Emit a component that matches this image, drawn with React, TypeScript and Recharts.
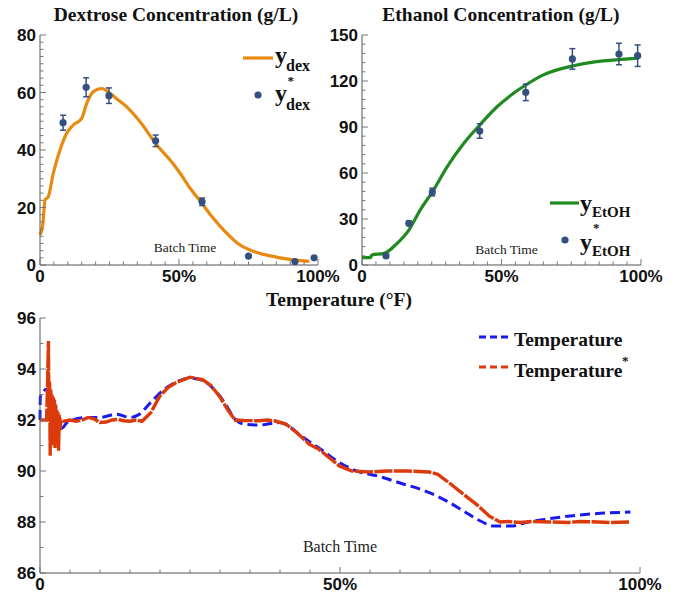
import React from "react";
import { ComposedChart, Line, Scatter, ErrorBar, XAxis, YAxis } from "recharts";

// dextrose: model curve and measured samples (batch time in %)
const dexFitTime = [0, 1, 1.8, 3, 4.8, 7.2, 9.6, 12, 15, 16.8, 19.2, 22.2, 25.2, 28, 31.2, 36, 42, 46.8, 50.4, 54, 57.8, 61.9, 66.6, 71.2, 77.2, 84.3, 91.5, 96.9];
const dexFit = [10.5, 14, 22.6, 23.8, 32, 40, 45.8, 48.7, 51, 56.2, 60.3, 61.4, 59.7, 57.5, 55, 49.8, 41.7, 36.5, 31.9, 26.7, 22, 16.8, 11.6, 7.5, 4.6, 2.9, 1.7, 1.3];
const dexObsTime = [8.3, 16.6, 24.8, 41.6, 58.3, 75, 91.7, 98.6];
const dexObs = [49.5, 61.8, 58.9, 43.2, 22, 3.1, 1.2, 2.5];
const dexErr = [2.6, 3.3, 2.7, 2, 1.3, 0, 0, 0];

// ethanol
const etohFitTime = [0, 3, 3.5, 8, 12.5, 16.8, 20.9, 25.2, 30.5, 36.5, 42.2, 48.4, 54.3, 58.7, 65, 75.4, 84, 92, 99.2];
const etohFit = [4.8, 4.8, 6.5, 7.6, 14, 22.8, 36, 47.6, 64, 79.4, 91.3, 103.2, 112, 117.4, 124, 129.8, 132.6, 133.9, 134.9];
const etohObsTime = [8.6, 16.8, 25.2, 42.2, 58.7, 75.4, 92.1, 98.8];
const etohObs = [5.9, 27.2, 47.6, 87.4, 112.6, 134.4, 137.6, 136.5];
const etohErr = [0, 1.5, 2.5, 4.7, 5.4, 6.7, 7, 7];

// temperature: model vs measured
const tempModelTime = [0, 0.05, 0.5, 1, 1.6, 2.5, 3.6, 4.5, 5.5, 8, 10, 12.8, 15, 16.4, 18.5, 20.7, 22.8, 25, 27.1, 29.2, 30.7, 32.5, 33.9, 36.4, 40, 41.4, 43.5, 47.1, 49.9, 52.8, 56.3, 59.9, 64.9, 67.8, 70.6, 73.5, 75.6, 78.5, 81.3, 84.9, 89.2, 93.4, 98.4];
const tempModel = [92.0, 92.9, 93.1, 93.2, 93.07, 92.6, 91.67, 91.9, 92.0, 92.1, 92.1, 92.23, 92.1, 92.2, 92.7, 93.2, 93.5, 93.64, 93.55, 93.15, 92.7, 92.04, 91.84, 91.8, 91.9, 91.77, 91.38, 90.8, 90.33, 90.0, 89.8, 89.54, 89.15, 88.82, 88.43, 88.03, 87.84, 87.84, 88.0, 88.13, 88.26, 88.34, 88.39];
const tempMeasTime = [0, 1.1, 1.25, 1.4, 1.5, 1.6, 1.7, 1.8, 1.9, 2.0, 2.1, 2.2, 2.3, 2.4, 2.5, 2.6, 2.7, 2.8, 2.9, 3.0, 3.1, 3.2, 3.3, 3.5, 4, 5, 6, 7, 8, 9, 10, 11, 12, 13, 14, 15, 16, 17, 18.5, 20, 21.4, 22.8, 25, 27.1, 28.5, 30, 31.4, 32.5, 34, 36.4, 38, 39.2, 41, 42.8, 44.9, 46.5, 47.8, 49.9, 52, 54.9, 57.8, 61.3, 64.9, 66.3, 68.5, 70.6, 72.7, 74.9, 76.7, 78, 80, 82, 85, 88, 90, 93, 95, 98.4];
const tempMeas = [92, 92, 93.3, 95.1, 92.2, 93.5, 90.6, 93.2, 91.2, 93.0, 91.0, 92.9, 91.5, 92.8, 90.9, 92.6, 91.3, 92.4, 91.1, 92.3, 90.8, 92.2, 91.6, 92.0, 91.95, 92.0, 91.95, 92.0, 92.1, 92.05, 91.9, 91.92, 92.0, 92.02, 91.97, 91.95, 92.0, 91.95, 92.3, 92.95, 93.28, 93.48, 93.68, 93.58, 93.35, 92.9, 92.36, 92.0, 91.98, 91.97, 92.0, 91.96, 91.84, 91.5, 91.05, 90.85, 90.6, 90.2, 90.0, 89.96, 90.0, 90.0, 89.96, 89.87, 89.48, 89.08, 88.7, 88.23, 88.0, 88.02, 87.98, 88.02, 88.0, 87.98, 88.02, 88.0, 87.98, 88.0];

// ticks
const pctTicks = [0, 5, 10, 15, 20, 25, 30, 35, 40, 45, 50, 55, 60, 65, 70, 75, 80, 85, 90, 95, 100];
const pctMajor = [0, 50, 100];
const dexTicks = [0, 2.5, 5, 7.5, 10, 12.5, 15, 17.5, 20, 22.5, 25, 27.5, 30, 32.5, 35, 37.5, 40, 42.5, 45, 47.5, 50, 52.5, 55, 57.5, 60, 62.5, 65, 67.5, 70, 72.5, 75, 77.5, 80];
const dexRightTicks = [0, 10, 20, 30, 40, 50, 60, 70, 80];
const dexMajor = [0, 20, 40, 60, 80];
const etohTicks = [0, 6, 12, 18, 24, 30, 36, 42, 48, 54, 60, 66, 72, 78, 84, 90, 96, 102, 108, 114, 120, 126, 132, 138, 144, 150];
const etohMajor = [0, 30, 60, 90, 120, 150];
const tempTicks = [86, 87, 88, 89, 90, 91, 92, 93, 94, 95, 96];
const tempMajor = [86, 88, 90, 92, 94, 96];

const ORANGE = "#e88a10";
const GREEN = "#1f8a1f";
const NAVY = "#33507f";
const BLUE = "#1a1af0";
const RED = "#dc3a0a";
const FRAME = "#555";
const TICK = "#777";
const SERIF = "'Liberation Serif', 'Times New Roman', serif";
const SANS = "'Liberation Sans', Arial, sans-serif";

const zip = (t: number[], v: number[], e?: number[]) =>
  t.map((x, i) => ({ t: x, v: v[i], err: e ? e[i] : 0 }));

const pctLabel = (v: number) => (v === 0 ? "0" : `${v}%`);
const numLabel = (v: number) => `${v}`;

type Side = "left" | "right" | "top" | "bottom";

// frame ticks point inward, labels sit outside
const makeTick = (side: Side, majors: number[], fmt?: (v: number) => string) => (p: any) => {
  const { x, y, payload } = p;
  const v = payload.value;
  const major = majors.includes(v);
  const len = major ? 6 : 3.5;
  let x2 = x;
  let y2 = y;
  if (side === "left") x2 = x + len;
  if (side === "right") x2 = x - len;
  if (side === "top") y2 = y + len;
  if (side === "bottom") y2 = y - len;
  return (
    <g>
      <line x1={x} y1={y} x2={x2} y2={y2} stroke={TICK} strokeWidth={1} />
      {fmt && major && side === "left" && (
        <text x={x - 4} y={y} dy="0.36em" textAnchor="end" fontFamily={SANS} fontWeight="bold" fontSize={17} fill="#111">
          {fmt(v)}
        </text>
      )}
      {fmt && major && side === "bottom" && (
        <text x={x} y={y + 17} textAnchor="middle" fontFamily={SANS} fontWeight="bold" fontSize={17} fill="#111">
          {fmt(v)}
        </text>
      )}
    </g>
  );
};

const dot = (color: string) => (p: any) => <circle cx={p.cx} cy={p.cy} r={3.6} fill={color} />;

const batchLabel = (offset: number, dx: number, size: number) => ({
  value: "Batch Time",
  position: "top" as const,
  offset,
  dx,
  fontFamily: SERIF,
  fontSize: size,
  fill: "#222",
});

export default function App() {
  const dexLine = zip(dexFitTime, dexFit);
  const dexPts = zip(dexObsTime, dexObs, dexErr);
  const etohLine = zip(etohFitTime, etohFit);
  const etohPts = zip(etohObsTime, etohObs, etohErr);
  const tModel = zip(tempModelTime, tempModel);
  const tMeas = zip(tempMeasTime, tempMeas);

  return (
    <div style={{ position: "absolute", left: 0, top: 0, width: 674, height: 594, background: "#fff" }}>
      {/* dextrose */}
      <div style={{ position: "absolute", left: 0, top: 0 }}>
        <ComposedChart width={362} height={290} margin={{ top: 35, right: 44, bottom: 0, left: 0 }}>
          <XAxis xAxisId="b" dataKey="t" type="number" domain={[0, 100]} ticks={pctTicks} interval={0}
            height={25} tickSize={0} tickMargin={0} axisLine={{ stroke: FRAME }} tickLine={false}
            tick={makeTick("bottom", pctMajor, pctLabel)} label={batchLabel(13, 6, 13.5)} />
          <XAxis xAxisId="t" orientation="top" type="number" domain={[0, 100]} ticks={pctTicks} interval={0}
            height={0} tickSize={0} tickMargin={0} axisLine={{ stroke: FRAME }} tickLine={false}
            tick={makeTick("top", pctMajor)} />
          <YAxis yAxisId="l" type="number" domain={[0, 80]} ticks={dexTicks} interval={0} width={40}
            tickSize={0} tickMargin={0} axisLine={{ stroke: FRAME }} tickLine={false}
            tick={makeTick("left", dexMajor, numLabel)} />
          <YAxis yAxisId="r" orientation="right" type="number" domain={[0, 80]} ticks={dexRightTicks} interval={0}
            width={0} tickSize={0} tickMargin={0} axisLine={{ stroke: FRAME }} tickLine={false}
            tick={makeTick("right", dexMajor)} />
          <Line xAxisId="b" yAxisId="l" data={dexLine} dataKey="v" type="monotone" stroke={ORANGE}
            strokeWidth={3.2} dot={false} isAnimationActive={false} />
          <Scatter xAxisId="b" yAxisId="l" data={dexPts} dataKey="v" shape={dot(NAVY)} isAnimationActive={false}>
            <ErrorBar dataKey="err" direction="y" width={3} stroke={NAVY} strokeWidth={1.5} />
          </Scatter>
        </ComposedChart>
      </div>

      {/* ethanol */}
      <div style={{ position: "absolute", left: 300, top: 0 }}>
        <ComposedChart width={374} height={290} margin={{ top: 35, right: 33, bottom: 0, left: 0 }}>
          <XAxis xAxisId="b" dataKey="t" type="number" domain={[0, 100]} ticks={pctTicks} interval={0}
            height={25} tickSize={0} tickMargin={0} axisLine={{ stroke: FRAME }} tickLine={false}
            tick={makeTick("bottom", pctMajor, pctLabel)} label={batchLabel(11, 5, 13.5)} />
          <XAxis xAxisId="t" orientation="top" type="number" domain={[0, 100]} ticks={pctTicks} interval={0}
            height={0} tickSize={0} tickMargin={0} axisLine={{ stroke: FRAME }} tickLine={false}
            tick={makeTick("top", pctMajor)} />
          <YAxis yAxisId="l" type="number" domain={[0, 150]} ticks={etohTicks} interval={0} width={62}
            tickSize={0} tickMargin={0} axisLine={{ stroke: FRAME }} tickLine={false}
            tick={makeTick("left", etohMajor, numLabel)} />
          <YAxis yAxisId="r" orientation="right" type="number" domain={[0, 150]} ticks={etohTicks} interval={0}
            width={0} tickSize={0} tickMargin={0} axisLine={{ stroke: FRAME }} tickLine={false}
            tick={makeTick("right", etohMajor)} />
          <Line xAxisId="b" yAxisId="l" data={etohLine} dataKey="v" type="monotone" stroke={GREEN}
            strokeWidth={3.2} dot={false} isAnimationActive={false} />
          <Scatter xAxisId="b" yAxisId="l" data={etohPts} dataKey="v" shape={dot(NAVY)} isAnimationActive={false}>
            <ErrorBar dataKey="err" direction="y" width={3} stroke={NAVY} strokeWidth={1.5} />
          </Scatter>
        </ComposedChart>
      </div>

      {/* temperature */}
      <div style={{ position: "absolute", left: 0, top: 290 }}>
        <ComposedChart width={674} height={304} margin={{ top: 28, right: 34, bottom: 0, left: 0 }}>
          <XAxis xAxisId="b" dataKey="t" type="number" domain={[0, 100]} ticks={pctTicks} interval={0}
            height={21} tickSize={0} tickMargin={0} axisLine={{ stroke: FRAME }} tickLine={false}
            tick={makeTick("bottom", pctMajor, pctLabel)} label={batchLabel(21, 0, 16)} />
          <XAxis xAxisId="t" orientation="top" type="number" domain={[0, 100]} ticks={pctTicks} interval={0}
            height={0} tickSize={0} tickMargin={0} axisLine={{ stroke: FRAME }} tickLine={false}
            tick={makeTick("top", pctMajor)} />
          <YAxis yAxisId="l" type="number" domain={[86, 96]} ticks={tempTicks} interval={0} width={40}
            tickSize={0} tickMargin={0} axisLine={{ stroke: FRAME }} tickLine={false}
            tick={makeTick("left", tempMajor, numLabel)} />
          <YAxis yAxisId="r" orientation="right" type="number" domain={[86, 96]} ticks={tempTicks} interval={0}
            width={0} tickSize={0} tickMargin={0} axisLine={{ stroke: FRAME }} tickLine={false}
            tick={makeTick("right", tempMajor)} />
          <Line xAxisId="b" yAxisId="l" data={tModel} dataKey="v" type="monotone" stroke={BLUE}
            strokeWidth={3} strokeDasharray="10 5" dot={false} isAnimationActive={false} />
          <Line xAxisId="b" yAxisId="l" data={tMeas} dataKey="v" type="linear" stroke={RED}
            strokeWidth={3.4} strokeDasharray="18 1.5" dot={false} isAnimationActive={false} />
        </ComposedChart>
      </div>

      {/* titles and legends */}
      <svg width={674} height={594} style={{ position: "absolute", left: 0, top: 0, pointerEvents: "none" }}>
        <g fontFamily={SERIF} fontWeight="bold" fill="#111">
          <text x={176} y={21} fontSize={19.5} textAnchor="middle">Dextrose Concentration (g/L)</text>
          <text x={501} y={21} fontSize={19.5} textAnchor="middle">Ethanol Concentration (g/L)</text>
          <text x={339} y={306} fontSize={19.5} textAnchor="middle">Temperature (°F)</text>

          <line x1={243} x2={273} y1={58} y2={58} stroke={ORANGE} strokeWidth={3.2} />
          <text x={275} y={63} fontSize={24}>y</text>
          <text x={286} y={71} fontSize={16}>dex</text>
          <circle cx={258} cy={95} r={3.6} fill={NAVY} />
          <text x={275} y={101} fontSize={24}>y</text>
          <text x={287.5} y={85} fontSize={13}>*</text>
          <text x={286} y={109.5} fontSize={16}>dex</text>

          <line x1={550} x2={579} y1={203} y2={203} stroke={GREEN} strokeWidth={3.2} />
          <text x={580} y={211} fontSize={24}>y</text>
          <text x={592} y={217} fontSize={15}>EtOH</text>
          <circle cx={565} cy={240} r={3.6} fill={NAVY} />
          <text x={580} y={249.5} fontSize={24}>y</text>
          <text x={593} y={232} fontSize={13}>*</text>
          <text x={592} y={255.5} fontSize={15}>EtOH</text>

          <line x1={479} x2={509} y1={337} y2={337} stroke={BLUE} strokeWidth={3} strokeDasharray="7 4" />
          <text x={514} y={346} fontSize={19.5}>Temperature</text>
          <line x1={479} x2={509} y1={367} y2={367} stroke={RED} strokeWidth={3} strokeDasharray="7 4" />
          <text x={514} y={377} fontSize={19.5}>Temperature</text>
          <text x={622} y={365} fontSize={13}>*</text>
        </g>
      </svg>
    </div>
  );
}
